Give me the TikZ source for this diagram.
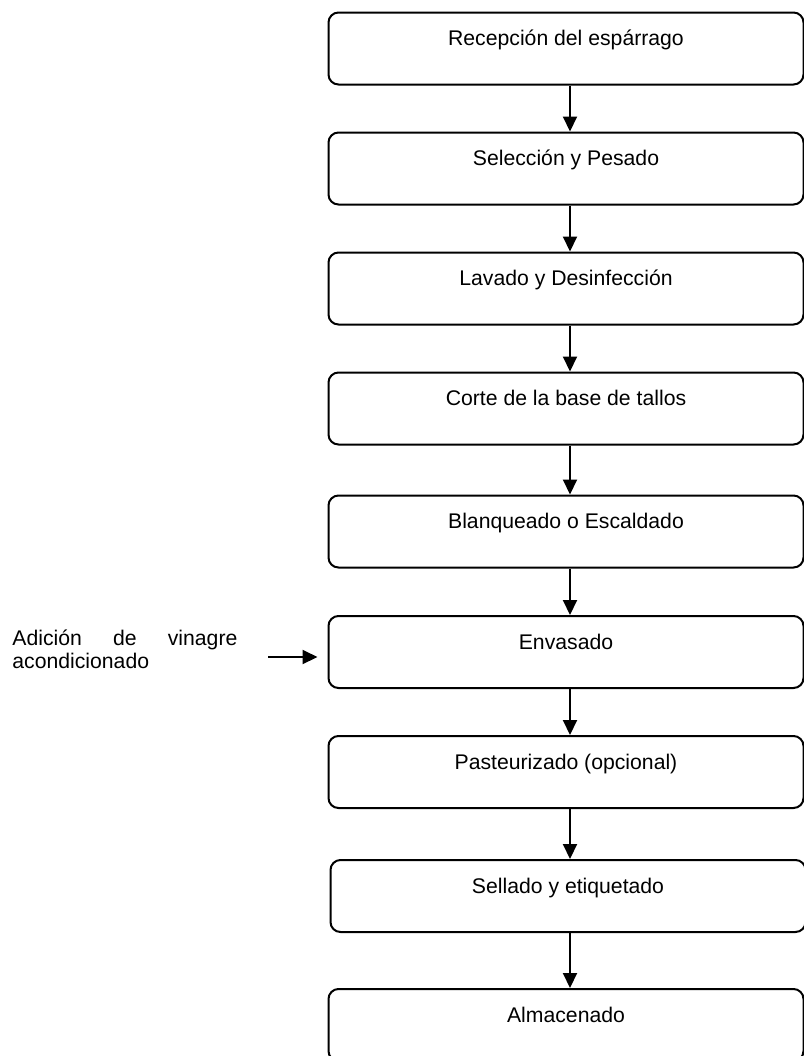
\documentclass[tikz,border=0pt]{standalone}
\usepackage{fontspec}
\setmainfont{Liberation Sans}
\usetikzlibrary{arrows.meta}

\begin{document}
\begin{tikzpicture}[x=0.5pt, y=-0.5pt,
    caja/.style={draw, line width=1pt, rounded corners=5pt, inner sep=0pt,
        minimum width=237.5pt, text height=16.5pt, text depth=19.5pt,
        font=\fontsize{10.6}{12.5}\selectfont},
    flecha/.style={line width=1pt, -{Triangle[length=7.5pt, width=7pt]}}]
            \useasboundingbox (0,0) rectangle (804,1056);

            % Define steps
            \node[caja] (A) at (566, 48.5) {Recepción del espárrago};
            \node[caja] (B) at (566, 168.5) {Selección y Pesado};
            \node[caja] (C) at (566, 288.5) {Lavado y Desinfección};
            \node[caja] (D) at (566, 408.5) {Corte de la base de tallos};
            \node[caja] (E) at (566, 531.5) {Blanqueado o Escaldado};
            \node[caja] (F) at (566, 652) {Envasado};
            \node[caja] (G) at (566, 772) {Pasteurizado (opcional)};
            \node[caja] (H) at (568, 896) {Sellado y etiquetado};
            \node[caja] (I) at (566, 1025) {Almacenado};

            % Side input
            \node[anchor=base west, inner sep=0pt, text width=112.5pt, align=justify,
                font=\fontsize{10.6}{11.5}\selectfont] (V) at (12, 645)
                {Adición de vinagre\linebreak acondicionado};
            \coordinate (v) at (268, 657);

            % Draw arrows between steps
            \draw[flecha] ([xshift=2pt]A.south) -- ([xshift=2pt]B.north);
            \draw[flecha] ([xshift=2pt]B.south) -- ([xshift=2pt]C.north);
            \draw[flecha] ([xshift=2pt]C.south) -- ([xshift=2pt]D.north);
            \draw[flecha] ([xshift=2pt]D.south) -- ([xshift=2pt]E.north);
            \draw[flecha] ([xshift=2pt]E.south) -- ([xshift=2pt]F.north);
            \draw[flecha] ([xshift=2pt]F.south) -- ([xshift=2pt]G.north);
            \draw[flecha] ([xshift=2pt]G.south) -- ([xshift=1pt]H.north);
            \draw[flecha] ([xshift=1pt]H.south) -- ([xshift=2pt]I.north);
            \draw[flecha, shorten >=5pt] (v) -- (v -| F.west);
        \end{tikzpicture}
\end{document}
